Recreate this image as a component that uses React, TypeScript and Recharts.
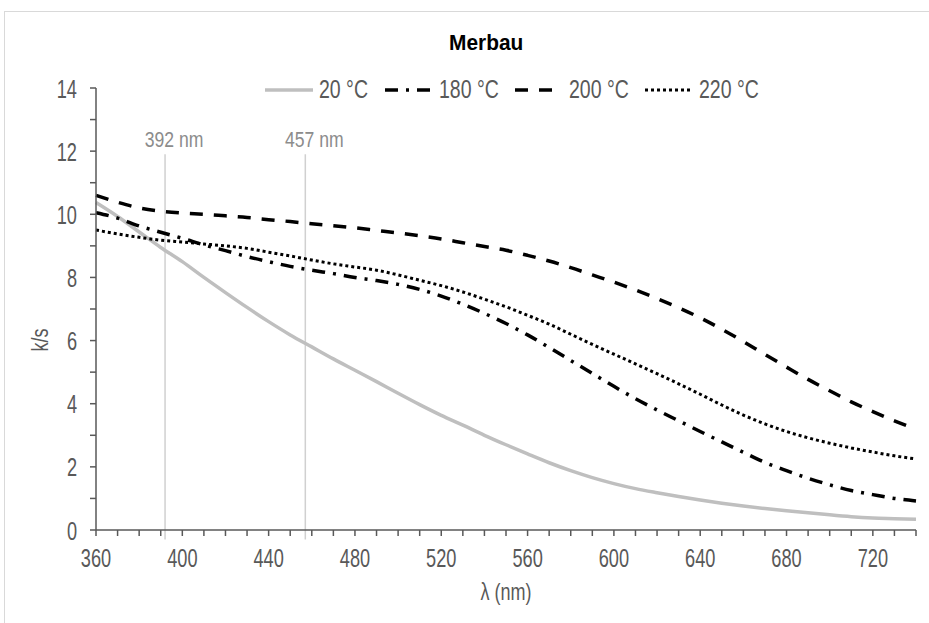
import React from 'react';
import { LineChart, Line, XAxis, YAxis, ReferenceLine } from 'recharts';

const wavelengths = [
  360, 370, 380, 390, 400, 410, 420, 430, 440, 450, 460, 470, 480, 490, 500, 510, 520, 530, 540, 550,
  560, 570, 580, 590, 600, 610, 620, 630, 640, 650, 660, 670, 680, 690, 700, 710, 720, 730, 740,
];

const ks20 = [
  10.37, 9.93, 9.44, 8.95, 8.5, 8.0, 7.52, 7.05, 6.6, 6.18, 5.8, 5.42, 5.06, 4.7, 4.33, 3.97, 3.63, 3.32, 3.0, 2.7,
  2.41, 2.13, 1.88, 1.66, 1.47, 1.31, 1.18, 1.06, 0.95, 0.85, 0.76, 0.68, 0.61, 0.55, 0.48, 0.42, 0.38, 0.36, 0.34,
];
const ks180 = [
  10.05, 9.88, 9.63, 9.43, 9.24, 9.03, 8.85, 8.66, 8.5, 8.35, 8.23, 8.12, 8.0, 7.9, 7.78, 7.62, 7.41, 7.15, 6.86, 6.54,
  6.18, 5.78, 5.37, 4.96, 4.55, 4.16, 3.8, 3.46, 3.12, 2.79, 2.46, 2.14, 1.88, 1.64, 1.43, 1.25, 1.12, 1.0, 0.92,
];
const ks200 = [
  10.6, 10.38, 10.2, 10.1, 10.04, 10.0, 9.95, 9.9, 9.83, 9.77, 9.7, 9.64, 9.57, 9.49, 9.41, 9.32, 9.22, 9.1, 8.98, 8.86,
  8.7, 8.52, 8.31, 8.08, 7.85, 7.6, 7.33, 7.04, 6.72, 6.36, 5.97, 5.56, 5.16, 4.77, 4.41, 4.06, 3.75, 3.46, 3.2,
];
const ks220 = [
  9.5, 9.38, 9.27, 9.18, 9.12, 9.06, 9.0, 8.92, 8.8, 8.68, 8.55, 8.43, 8.33, 8.23, 8.08, 7.91, 7.74, 7.54, 7.31, 7.07,
  6.8, 6.52, 6.2, 5.88, 5.57, 5.26, 4.95, 4.63, 4.3, 3.96, 3.64, 3.36, 3.12, 2.92, 2.75, 2.6, 2.47, 2.35, 2.25,
];

const yTicks = [0, 1, 2, 3, 4, 5, 6, 7, 8, 9, 10, 11, 12, 13, 14];
const markers = [392, 457];
const seriesNames = ['20 °C', '180 °C', '200 °C', '220 °C'];

const data = wavelengths.map((nm, i) => ({
  nm,
  s20: ks20[i],
  s180: ks180[i],
  s200: ks200[i],
  s220: ks220[i],
}));

const FONT = "'Liberation Sans', Arial, sans-serif";
const AXIS = '#595959';
const TEXT = '#595959';

const styles = [
  { key: 's20', stroke: '#bfbfbf', width: 3.5, dash: undefined as string | undefined },
  { key: 's180', stroke: '#000', width: 3.5, dash: '13 8 3 8' },
  { key: 's200', stroke: '#000', width: 3.5, dash: '13 11' },
  { key: 's220', stroke: '#000', width: 3, dash: '3 3' },
];

// legend item left edges (layout)
const legendX = [265, 385, 515, 645];

// condensed look: regular font squeezed horizontally
const NText = ({ x, y, sx = 0.7, size = 26, anchor = 'start', fill = TEXT, bold = false, rotate = 0, children }: any) => (
  <text
    transform={`translate(${x},${y})${rotate ? ` rotate(${rotate})` : ''} scale(${sx},1)`}
    textAnchor={anchor}
    fill={fill}
    fontSize={size}
    fontFamily={FONT}
    fontWeight={bold ? 'bold' : 'normal'}
  >
    {children}
  </text>
);

const XTick = (props: any) => {
  const { x, y, payload } = props;
  if (payload.value % 40 !== 0) return null;
  return <NText x={x} y={y + 29} anchor="middle">{payload.value}</NText>;
};

const YTick = (props: any) => {
  const { x, y, payload } = props;
  if (payload.value % 2 !== 0) return null;
  return <NText x={x} y={y + 9.5} anchor="end">{payload.value}</NText>;
};

const MarkerLabel = (props: any) => {
  const { viewBox, value } = props;
  return (
    <NText x={viewBox.x + 9} y={viewBox.y - 7} anchor="middle" size={22} sx={0.8} fill="#8c8c8c">
      {value}
    </NText>
  );
};

const Overlay = () => (
  <svg width={929} height={623} style={{ position: 'absolute', left: 0, top: 0, pointerEvents: 'none' }}>
    <NText x={449} y={50} size={22} sx={0.95} bold fill="#000">Merbau</NText>
    {styles.map((s, i) => (
      <g key={s.key}>
        <line x1={legendX[i]} y1={90} x2={legendX[i] + 48} y2={90} stroke={s.stroke} strokeWidth={s.width} strokeDasharray={s.dash} />
        <NText x={legendX[i] + 54} y={98} size={25} sx={0.78}>{seriesNames[i]}</NText>
      </g>
    ))}
    <NText x={506} y={600} size={24} sx={0.75} anchor="middle">λ (nm)</NText>
    <NText x={48} y={340} size={24} sx={0.75} anchor="middle" rotate={-90}>k/s</NText>
  </svg>
);

export default function App() {
  return (
    <div style={{ position: 'fixed', left: 0, top: 0, width: 929, height: 623, overflow: 'hidden', background: '#fff' }}>
      <div style={{ position: 'absolute', left: 4, top: 11, width: 960, height: 660, border: '1px solid #d9d9d9' }} />
      <div style={{ position: 'absolute', left: 0, top: 0 }}>
        <LineChart width={929} height={623} data={data} margin={{ top: 88, right: 13, bottom: 43, left: 56 }}>
          <XAxis
            dataKey="nm"
            type="number"
            domain={[360, 740]}
            ticks={wavelengths}
            interval={0}
            height={50}
            stroke={AXIS}
            strokeWidth={1.5}
            tickSize={6}
            tickMargin={2}
            tick={<XTick />}
          />
          <YAxis
            type="number"
            domain={[0, 14]}
            ticks={yTicks}
            interval={0}
            width={40}
            stroke={AXIS}
            strokeWidth={1.5}
            tickSize={6}
            tickMargin={13}
            tick={<YTick />}
          />
          {markers.map((m) => (
            <ReferenceLine
              key={m}
              segment={[{ x: m, y: -0.3 }, { x: m, y: 11.9 }]}
              stroke="#d0d0d0"
              strokeWidth={1.5}
              ifOverflow="visible"
              label={<MarkerLabel value={`${m} nm`} />}
            />
          ))}
          {styles.map((s) => (
            <Line
              key={s.key}
              dataKey={s.key}
              type="monotone"
              stroke={s.stroke}
              strokeWidth={s.width}
              strokeDasharray={s.dash}
              dot={false}
              isAnimationActive={false}
            />
          ))}
        </LineChart>
      </div>
      <Overlay />
    </div>
  );
}
